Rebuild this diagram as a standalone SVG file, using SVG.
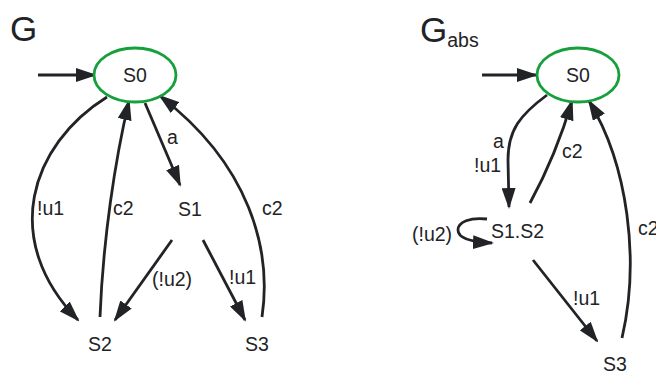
<svg xmlns="http://www.w3.org/2000/svg" width="656" height="372" viewBox="0 0 656 372">
<defs>
<marker id="ah" viewBox="0 0 21 14" refX="19" refY="7" markerWidth="21" markerHeight="14" markerUnits="userSpaceOnUse" orient="auto">
<path d="M0,0 L21,7 L0,14 z" fill="#222326"/>
</marker>
</defs>
<style>
.st{fill:#fff;stroke:#16a03c;stroke-width:2.8}
.e{fill:none;stroke:#222326;stroke-width:2.8;marker-end:url(#ah)}
.t{font-family:"Liberation Sans",Arial,sans-serif;font-size:19.5px;fill:#222326}
.m{text-anchor:middle}
.big{font-family:"Liberation Sans",Arial,sans-serif;font-size:35px;fill:#222326}
</style>
<rect width="656" height="372" fill="#fff"/>
<text class="big" x="10" y="41">G</text>
<text class="big" x="420" y="42">G<tspan font-size="19.5" dy="5">abs</tspan></text>

<g id="connectors">
<path class="e" d="M38,75 L95,75"/>
<path class="e" d="M107,97 C30,145 0,240 78,320"/>
<path class="e" d="M100,317 C103,240 115,160 129,101"/>
<path class="e" d="M145,103 L180,185"/>
<path class="e" d="M172,240 L115,320"/>
<path class="e" d="M203,240 L245,320"/>
<path class="e" d="M262,317 C272,250 250,165 160,96"/>

<path class="e" d="M482,75 L536,75"/>
<path class="e" d="M547,95 C520,115 508,130 508,160 L509,207"/>
<path class="e" d="M530,203 C548,170 562,135 572,101"/>
<path class="e" d="M622,338 C640,260 628,165 589,101"/>
<path class="e" d="M487,219 C470,217 458,222 458,230 C458,238 470,242 492,243"/>
<path class="e" d="M533,260 L597,341"/>
</g>

<g id="S0"><ellipse class="st" cx="135" cy="75" rx="41" ry="27"/><text class="t m" x="135" y="82">S0</text></g>
<g id="S1"><text class="t m" x="190" y="216">S1</text></g>
<g id="S2"><text class="t m" x="100" y="351">S2</text></g>
<g id="S3"><text class="t m" x="257" y="351">S3</text></g>

<g id="abs_S0"><ellipse class="st" cx="578" cy="75" rx="41" ry="27"/><text class="t m" x="578" y="82">S0</text></g>
<g id="abs_S1S2"><text class="t" x="491" y="238">S1.S2</text></g>
<g id="abs_S3"><text class="t" x="603" y="371">S3</text></g>

<g id="labels">
<text class="t" x="167" y="144">a</text>
<text class="t" x="37" y="215">!u1</text>
<text class="t" x="113" y="215">c2</text>
<text class="t" x="262" y="215">c2</text>
<text class="t" x="152" y="286">(!u2)</text>
<text class="t" x="229" y="284">!u1</text>

<text class="t" x="493" y="148">a</text>
<text class="t" x="474" y="172">!u1</text>
<text class="t" x="562" y="158">c2</text>
<text class="t" x="412" y="241">(!u2)</text>
<text class="t" x="638" y="235">c2</text>
<text class="t" x="573" y="305">!u1</text>
</g>
</svg>
